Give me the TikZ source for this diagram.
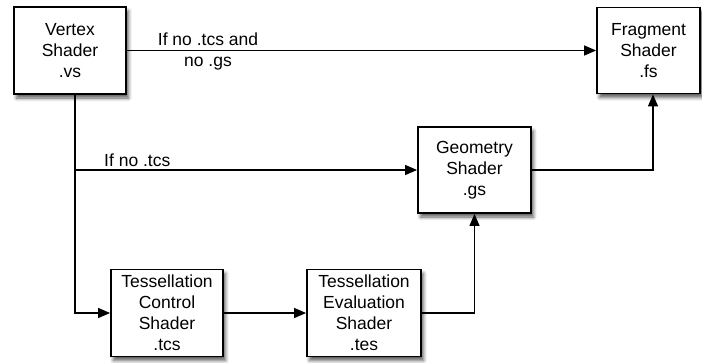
\documentclass[tikz,border=0pt]{standalone}
\usepackage{fontspec}
\setmainfont{Liberation Sans}
\usetikzlibrary{arrows.meta,shadows.blur}
\begin{document}
\begin{tikzpicture}[x=1pt,y=-1pt,
  shaderbox/.style={draw=black,line width=1.8pt,fill=white,align=center,
    inner sep=0pt,
    font=\fontsize{17.5}{21}\selectfont,
    blur shadow={shadow xshift=2.5pt,shadow yshift=-4pt,shadow blur steps=6,shadow blur radius=3.5pt,shadow opacity=65}},
  conn/.style={draw=black,line width=1.3pt,-{Triangle[length=12pt,width=10pt]}},
  lbl/.style={font=\fontsize{17.5}{21}\selectfont,inner sep=0pt,align=center}]
\useasboundingbox (0,0) rectangle (702,362);
\node[shaderbox,minimum width=112pt,minimum height=87pt] (vs) at (70,50.5) {Vertex\\Shader\\.vs};
\node[shaderbox,minimum width=103pt,minimum height=86pt] (fs) at (648.5,50.5) {Fragment\\Shader\\.fs};
\node[shaderbox,minimum width=113pt,minimum height=86pt] (gs) at (474.5,170) {Geometry\\Shader\\.gs};
\node[shaderbox,minimum width=112pt,minimum height=87pt] (tcs) at (167,313) {Tessellation\\Control\\Shader\\.tcs};
\node[shaderbox,minimum width=114pt,minimum height=87pt] (tes) at (364,313) {Tessellation\\Evaluation\\Shader\\.tes};
\coordinate (vsout) at ([xshift=5pt]vs.south);
\coordinate (fsin) at ([xshift=4.5pt]fs.south);
\draw[conn] (vs.east) -- (fs.west);
\draw[conn] (vsout) |- (tcs.west);
\draw[conn] (vsout) |- (gs.west);
\draw[conn] (tcs.east) -- (tes.west);
\draw[conn] (tes.east) -| (gs.south);
\draw[conn] (gs.east) -| (fsin);
\node[lbl] (l1) at (208,51) {If no .tcs and\\no .gs};
\node[lbl,anchor=base west] (l2) at (104,166) {If no .tcs};
\end{tikzpicture}
\end{document}
